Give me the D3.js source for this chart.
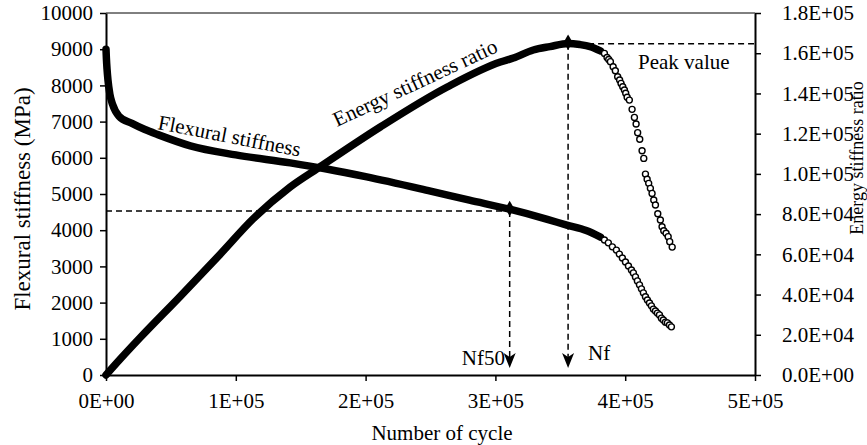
<!DOCTYPE html>
<html>
<head>
<meta charset="utf-8">
<script src="https://cdn.jsdelivr.net/npm/d3@7"></script>
<style>
    body { margin: 0; background: #fff; }
    svg { display: block; }
    svg text { font-family: "Liberation Serif", "Times New Roman", serif; fill: #000; }
</style>
</head>
<body>
<svg id="chart" width="867" height="445"></svg>
<script>
// flexural stiffness, dense part (drawn as a thick band of markers)
var flexCycles = [0, 300, 800, 1500, 3000, 5000, 10000, 20000, 30000, 40000, 65000, 100000, 142000, 170000, 200000, 250000, 280000, 311000, 340000, 355000, 370000, 381000];
var flexValues = [9000, 8750, 8450, 8150, 7750, 7480, 7150, 6950, 6780, 6640, 6330, 6080, 5860, 5690, 5480, 5080, 4830, 4580, 4300, 4140, 3990, 3810];

// flexural stiffness, separate markers at the end
var flexTailCycles = [384000, 387000, 390100, 393200, 395500, 397800, 400200, 402500, 404800, 406300, 407900, 409400, 411000, 412500, 414000, 415600, 417100, 418700, 420200, 421700, 423300, 424800, 426400, 427900, 429400, 431000, 432500, 434100, 435600];
var flexTailValues = [3730, 3650, 3540, 3450, 3340, 3230, 3120, 3010, 2900, 2820, 2710, 2600, 2490, 2380, 2270, 2160, 2070, 1990, 1910, 1820, 1770, 1710, 1660, 1570, 1520, 1460, 1440, 1380, 1330];

// energy stiffness ratio, dense part
var energyCycles = [0, 10800, 26200, 57000, 87900, 113300, 141900, 163500, 211300, 262900, 303800, 313800, 329200, 342000, 356200, 365000, 373000, 380900];
var energyValues = [0, 7800, 18500, 39000, 60000, 77600, 93500, 102900, 123300, 143200, 155600, 157600, 161600, 163300, 164800, 164300, 163300, 161200];

// energy stiffness ratio, separate markers at the end
var energyTailCycles = [384000, 386000, 387300, 388600, 390700, 392400, 394200, 395700, 396800, 398100, 399400, 400400, 401500, 403200, 405300, 407100, 408400, 409600, 411200, 413000, 414300, 415600, 416900, 418100, 419400, 420700, 422000, 423300, 425100, 427100, 428400, 429700, 431500, 433100, 434300, 436200];
var energyTailValues = [159900, 157900, 156900, 155800, 153300, 151300, 148300, 146700, 145000, 143300, 141700, 140100, 138100, 136700, 132100, 128100, 124800, 120500, 117200, 111500, 107700, 99900, 97300, 95300, 92800, 90300, 87000, 84500, 80200, 77100, 73700, 71700, 70500, 68800, 66300, 63600];

var xTicks = [0, 100000, 200000, 300000, 400000, 500000];
var xTickLabels = ["0E+00", "1E+05", "2E+05", "3E+05", "4E+05", "5E+05"];
var leftTicks = [0, 1000, 2000, 3000, 4000, 5000, 6000, 7000, 8000, 9000, 10000];
var rightTicks = [0, 20000, 40000, 60000, 80000, 100000, 120000, 140000, 160000, 180000];
var rightTickLabels = ["0.0E+00", "2.0E+04", "4.0E+04", "6.0E+04", "8.0E+04", "1.0E+05", "1.2E+05", "1.4E+05", "1.6E+05", "1.8E+05"];

var nf50Cycle = 311000, nf50Stiffness = 4530;
var peakCycle = 356000, peakRatio = 164700;

var margin = {top: 13, right: 112, bottom: 70, left: 106};
var svg = d3.select("#chart");
var width = +svg.attr("width") - margin.left - margin.right;
var height = +svg.attr("height") - margin.top - margin.bottom;
var g = svg.append("g").attr("transform", "translate(" + margin.left + "," + margin.top + ")");

var x = d3.scaleLinear().domain([0, 500000]).range([0, width]);
var yL = d3.scaleLinear().domain([0, 10000]).range([height, 0]);
var yR = d3.scaleLinear().domain([0, 180000]).range([height, 0]);

var zip = function(a, b) { return a.map(function(d, i) { return [d, b[i]]; }); };

// top border of plot area
g.append("line").attr("x1", 0).attr("x2", width).attr("y1", 0).attr("y2", 0)
    .attr("stroke", "#000").attr("stroke-width", 1);

var styleAxis = function(sel) {
    sel.select(".domain").attr("stroke-width", 2);
    sel.selectAll(".tick line").attr("stroke-width", 1.5);
    sel.selectAll(".tick text").attr("font-size", 21);
};

g.append("g")
    .attr("transform", "translate(0," + height + ")")
    .call(d3.axisBottom(x).tickValues(xTicks).tickSize(6).tickSizeOuter(0).tickPadding(12)
        .tickFormat(function(d, i) { return xTickLabels[i]; }))
    .call(styleAxis);

g.append("g")
    .call(d3.axisLeft(yL).tickValues(leftTicks).tickSize(6).tickSizeOuter(0).tickPadding(7)
        .tickFormat(d3.format("d")))
    .call(styleAxis);

g.append("g")
    .attr("transform", "translate(" + width + ",0)")
    .call(d3.axisRight(yR).tickValues(rightTicks).tickSize(6).tickSizeOuter(0).tickPadding(21)
        .tickFormat(function(d, i) { return rightTickLabels[i]; }))
    .call(styleAxis);

// axis titles
svg.append("text").attr("transform", "translate(30,199) rotate(-90)")
    .attr("text-anchor", "middle").attr("font-size", 23).text("Flexural stiffness (MPa)");
svg.append("text").attr("transform", "translate(863,158) rotate(-90)")
    .attr("text-anchor", "middle").attr("font-size", 18).text("Energy stiffness ratio");
svg.append("text").attr("x", 442).attr("y", 440)
    .attr("text-anchor", "middle").attr("font-size", 21).text("Number of cycle");

// dashed guides
var dash = "6,4";
g.append("line").attr("x1", 0).attr("x2", x(nf50Cycle))
    .attr("y1", yL(nf50Stiffness)).attr("y2", yL(nf50Stiffness))
    .attr("stroke", "#000").attr("stroke-width", 1.5).attr("stroke-dasharray", dash);
g.append("line").attr("x1", x(peakCycle)).attr("x2", width)
    .attr("y1", yR(peakRatio)).attr("y2", yR(peakRatio))
    .attr("stroke", "#000").attr("stroke-width", 1.5).attr("stroke-dasharray", dash);

var arrowBottom = height - 7;
[[nf50Cycle, yL(nf50Stiffness)], [peakCycle, yR(peakRatio)]].forEach(function(p) {
    var px = x(p[0]);
    g.append("line").attr("x1", px).attr("x2", px).attr("y1", p[1]).attr("y2", arrowBottom - 8)
        .attr("stroke", "#000").attr("stroke-width", 1.5).attr("stroke-dasharray", dash);
    g.append("path")
        .attr("d", "M" + px + "," + arrowBottom + " l-6,-15 l6,4 l6,-4 z")
        .attr("fill", "#000");
});

// series
var line = d3.line().curve(d3.curveMonotoneX)
    .x(function(d) { return x(d[0]); });

g.append("path")
    .datum(zip(flexCycles, flexValues))
    .attr("fill", "none").attr("stroke", "#000").attr("stroke-width", 7.5)
    .attr("stroke-linecap", "round").attr("stroke-linejoin", "round")
    .attr("d", line.y(function(d) { return yL(d[1]); }));

g.append("path")
    .datum(zip(energyCycles, energyValues))
    .attr("fill", "none").attr("stroke", "#000").attr("stroke-width", 7.5)
    .attr("stroke-linecap", "round").attr("stroke-linejoin", "round")
    .attr("d", line.y(function(d) { return yR(d[1]); }));

g.selectAll(".flexTail")
    .data(zip(flexTailCycles, flexTailValues))
    .enter().append("circle").attr("class", "flexTail")
    .attr("cx", function(d) { return x(d[0]); })
    .attr("cy", function(d) { return yL(d[1]); })
    .attr("r", 3).attr("fill", "#fff").attr("stroke", "#000").attr("stroke-width", 1.4);

g.selectAll(".energyTail")
    .data(zip(energyTailCycles, energyTailValues))
    .enter().append("circle").attr("class", "energyTail")
    .attr("cx", function(d) { return x(d[0]); })
    .attr("cy", function(d) { return yR(d[1]); })
    .attr("r", 3).attr("fill", "#fff").attr("stroke", "#000").attr("stroke-width", 1.4);

// diamonds at Nf50 and peak
var diamond = d3.symbol().type(d3.symbolDiamond).size(70);
g.append("path").attr("d", diamond)
    .attr("transform", "translate(" + x(nf50Cycle) + "," + yL(4600) + ")").attr("fill", "#000");
g.append("path").attr("d", diamond)
    .attr("transform", "translate(" + x(peakCycle) + "," + yR(peakRatio + 800) + ")").attr("fill", "#000");

// annotations
svg.append("text").attr("transform", "translate(157,129) rotate(11)")
    .attr("font-size", 21).text("Flexural stiffness");
svg.append("text").attr("transform", "translate(337,127) rotate(-25)")
    .attr("font-size", 21).text("Energy stiffness ratio");
svg.append("text").attr("x", 638).attr("y", 69).attr("font-size", 21).text("Peak value");
svg.append("text").attr("x", 505).attr("y", 365).attr("text-anchor", "end")
    .attr("font-size", 21).text("Nf50");
svg.append("text").attr("x", 588).attr("y", 360).attr("font-size", 21).text("Nf");
</script>
</body>
</html>
